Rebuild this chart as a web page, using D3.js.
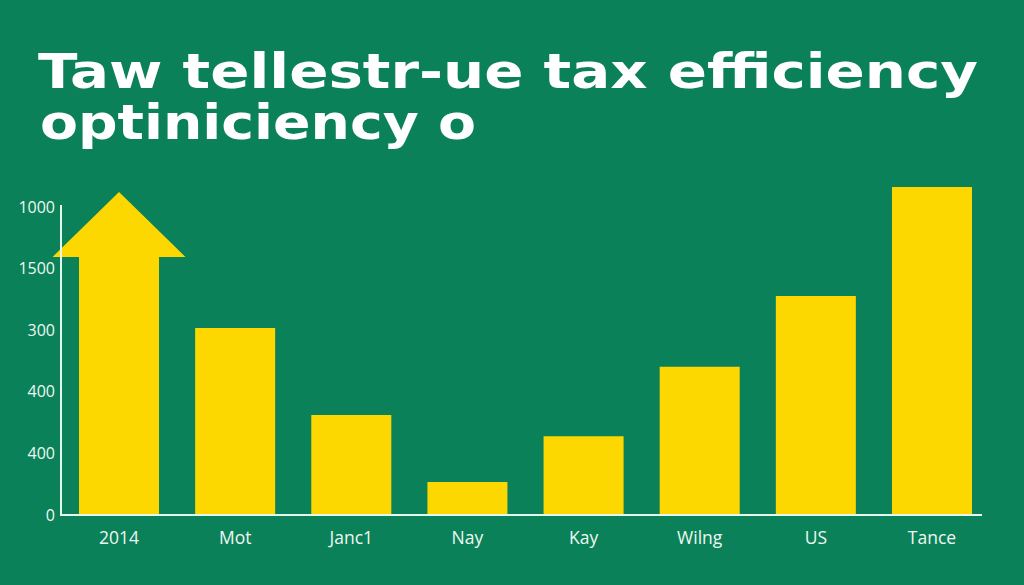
<!DOCTYPE html>
<html>
<head>
<meta charset="utf-8">
<script src="https://cdn.jsdelivr.net/npm/d3@7"></script>
<style>
  html, body { margin: 0; padding: 0; background: #0b8159; }
  svg { display: block; }
</style>
</head>
<body>
<svg id="chart" width="1024" height="585"></svg>
<script>
// ---- data ----
const titleLines = ["Taw tellestr-ue tax efficiency", "optiniciency o"];
const categories = ["2014", "Mot", "Janc1", "Nay", "Kay", "Wilng", "US", "Tance"];
const values = [838, 607, 325, 107, 256, 481, 711, 1065];
const arrowTipValue = 1049; // tip of the arrow on the first bar
const yTickValues = [0, 200, 400, 600, 800, 1000];
const yTickLabels = ["0", "400", "400", "300", "1500", "1000"];

// ---- layout ----
const W = 1024, H = 585;
const margin = { left: 61, right: 42, top: 205, bottom: 70 };
const plotBottom = H - margin.bottom; // 515
const bg = "#0b8159", barColor = "#fdd700", axisColor = "#e4f7ee", textColor = "#eef8f2";

const svg = d3.select("#chart");
svg.append("rect").attr("width", W).attr("height", H).attr("fill", bg);

// title
const title = svg.append("g").attr("font-family", "'DejaVu Sans', sans-serif")
  .attr("font-weight", 700).attr("fill", "#ffffff").attr("font-size", 48);
title.append("text").attr("x", 38).attr("y", 88).text(titleLines[0])
  .attr("textLength", 940).attr("lengthAdjust", "spacingAndGlyphs");
title.append("text").attr("x", 40).attr("y", 139).text(titleLines[1])
  .attr("textLength", 436).attr("lengthAdjust", "spacingAndGlyphs");

// scales
const x = d3.scaleBand().domain(categories).range([79, 972]).paddingInner(0.311).paddingOuter(0);
const y = d3.scaleLinear().domain([0, 1000]).range([plotBottom, 207]);

// bars
const data = categories.map((c, i) => ({ c, v: values[i], i }));
svg.append("g").selectAll("path").data(data).join("path")
  .attr("fill", barColor)
  .attr("d", d => {
    const x0 = x(d.c), x1 = x0 + x.bandwidth(), yb = y(0), yt = y(d.v);
    if (d.i === 0) {
      const cx = x0 + x.bandwidth() / 2, hw = x.bandwidth() * 0.83;
      const tip = y(arrowTipValue);
      return `M${x0},${yb}L${x0},${yt}L${cx - hw},${yt}L${cx},${tip}L${cx + hw},${yt}L${x1},${yt}L${x1},${yb}Z`;
    }
    return `M${x0},${yb}L${x0},${yt}L${x1},${yt}L${x1},${yb}Z`;
  });

// axes lines
svg.append("line").attr("x1", margin.left).attr("x2", margin.left)
  .attr("y1", margin.top).attr("y2", plotBottom + 1)
  .attr("stroke", axisColor).attr("stroke-width", 2);
svg.append("line").attr("x1", margin.left - 1).attr("x2", W - margin.right)
  .attr("y1", plotBottom).attr("y2", plotBottom)
  .attr("stroke", axisColor).attr("stroke-width", 2);

// y axis labels
const yAxis = d3.axisLeft(y).tickValues(yTickValues)
  .tickFormat((d, i) => yTickLabels[i]).tickSize(0).tickPadding(5);
const gy = svg.append("g").attr("transform", `translate(${margin.left - 1},0)`).call(yAxis);
gy.select(".domain").remove();
gy.selectAll("text").attr("fill", textColor).attr("font-size", 16)
  .attr("font-family", "'Open Sans', sans-serif");

// x axis labels
const xAxis = d3.axisBottom(x).tickSize(0).tickPadding(17);
const gx = svg.append("g").attr("transform", `translate(0,${plotBottom})`).call(xAxis);
gx.select(".domain").remove();
gx.selectAll("text").attr("fill", textColor).attr("font-size", 17.5)
  .attr("font-family", "'Open Sans', sans-serif");
</script>
</body>
</html>
